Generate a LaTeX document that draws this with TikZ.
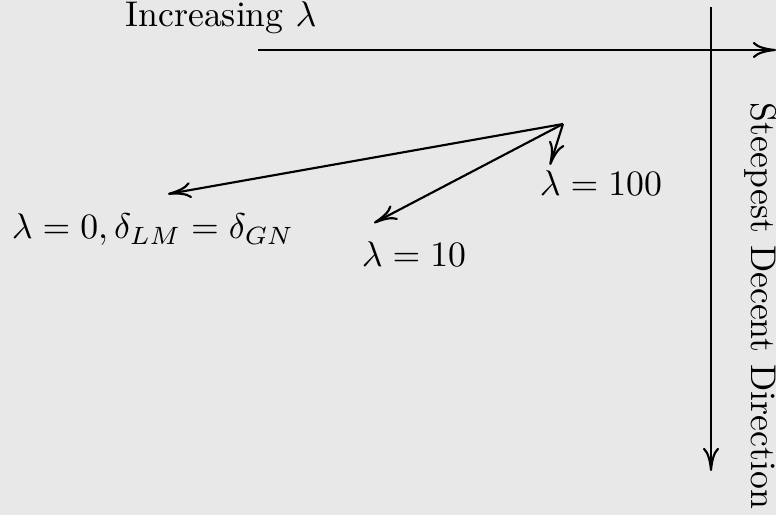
\documentclass[tikz,border=0pt]{standalone}
\usetikzlibrary{arrows.meta}
\begin{document}
\begin{tikzpicture}[x=0.28pt,y=-0.28pt,
  ln/.style={line width=0.6pt},
  ar/.style={ln,-{Computer Modern Rightarrow[length=6.5pt,width=4.5pt]}},
  lbl/.style={inner sep=0pt}]
\fill[black!9] (0,0) rectangle (776,515);
\useasboundingbox (0,0) rectangle (776,515);
% axes
\coordinate (hs) at (258,50);
\coordinate (he) at (776,50);
\coordinate (vs) at (711,7);
\coordinate (ve) at (711,471);
\draw[ar] (hs) -- (he);
\draw[ar] (vs) -- (ve);
\node[lbl] (inc) at (221,18) {Increasing $\lambda$};
\node[lbl,rotate=-90] (sd) at (761,306) {Steepest Decent Direction};
% step arrows
\coordinate (o) at (563,124);
\coordinate (t0) at (168,194);
\coordinate (t10) at (374,223);
\coordinate (t100) at (550,165);
\draw[ar] (o) -- (t0);
\draw[ar] (o) -- (t10);
\draw[ar] (o) -- (t100);
\node[lbl] (l0) at (153,230) {$\lambda=0,\delta_{LM}=\delta_{GN}$};
\node[lbl] (l10) at (414,254) {$\lambda=10$};
\node[lbl] (l100) at (601,183) {$\lambda=100$};
\end{tikzpicture}
\end{document}
